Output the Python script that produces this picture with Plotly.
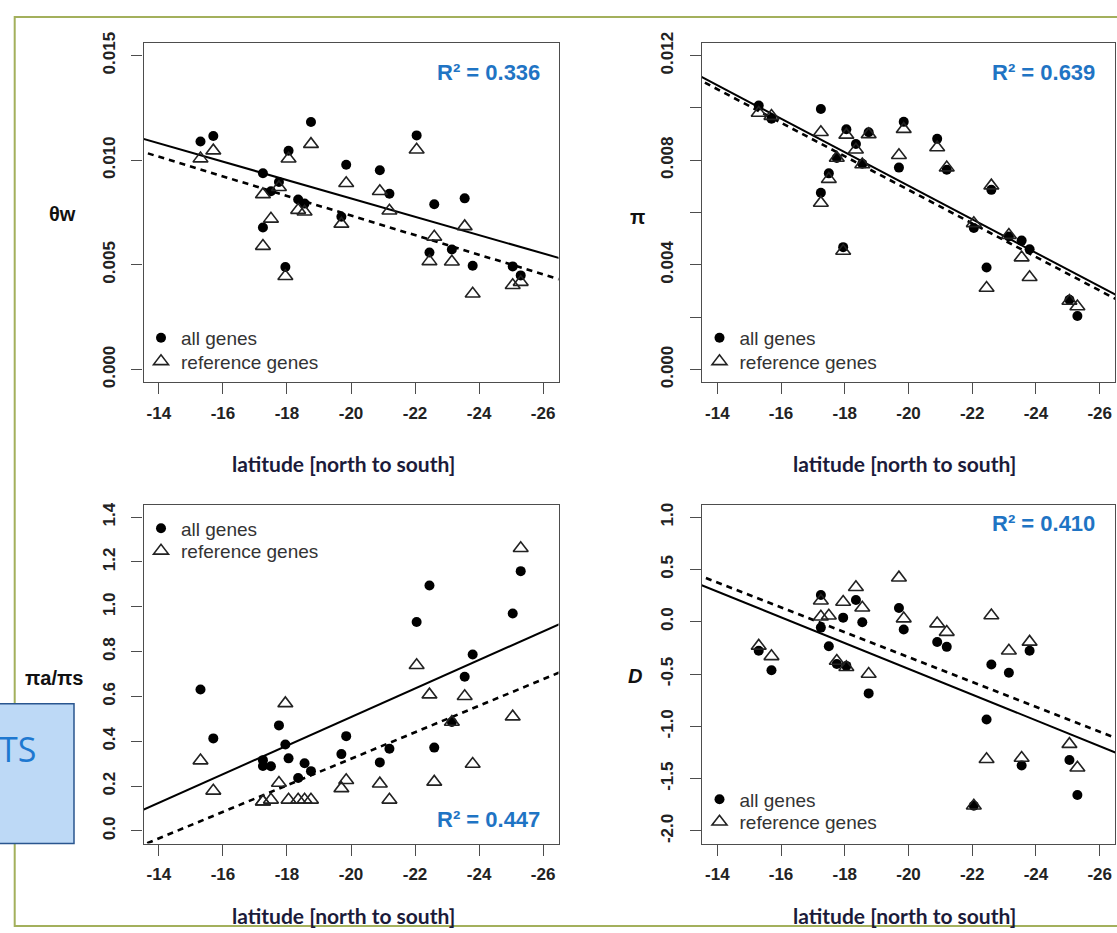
import plotly.graph_objects as go

# ---------------- data ----------------
lat = [-15.3, -15.7, -17.25, -17.25, -17.5, -17.75, -17.95, -18.05, -18.35, -18.55,
       -18.75, -19.7, -19.85, -20.9, -21.2, -22.05, -22.45, -22.6, -23.15, -23.55,
       -23.8, -25.05, -25.3]

theta_all = [0.01090, 0.01116, 0.00938, 0.00679, 0.00852, 0.00896, 0.00490, 0.01046,
             0.00813, 0.00793, 0.01183, 0.00730, 0.00979, 0.00952, 0.00840, 0.01119,
             0.00559, 0.00790, 0.00574, 0.00818, 0.00496, 0.00493, 0.00450]
theta_ref = [0.01008, 0.01046, 0.00837, 0.00590, 0.00720, 0.00871, 0.00446, 0.01007,
             0.00762, 0.00754, 0.01077, 0.00696, 0.00890, 0.00852, 0.00759, 0.01050,
             0.00517, 0.00634, 0.00515, 0.00684, 0.00362, 0.00403, 0.00418]

pi_all = [0.01009, 0.00959, 0.00996, 0.00676, 0.00750, 0.00809, 0.00468, 0.00919,
          0.00862, 0.00787, 0.00907, 0.00772, 0.00947, 0.00882, 0.00764, 0.00541,
          0.00390, 0.00687, 0.00509, 0.00493, 0.00460, 0.00267, 0.00205]
pi_ref = [0.00981, 0.00969, 0.00907, 0.00637, 0.00728, 0.00809, 0.00453, 0.00897,
          0.00840, 0.00784, 0.00899, 0.00819, 0.00919, 0.00849, 0.00772, 0.00559,
          0.00312, 0.00703, 0.00514, 0.00428, 0.00353, 0.00262, 0.00241]

ratio_all = [0.631, 0.413, 0.316, 0.290, 0.289, 0.471, 0.386, 0.324, 0.236, 0.302,
             0.267, 0.343, 0.423, 0.306, 0.367, 0.932, 1.095, 0.372, 0.486, 0.688,
             0.787, 0.970, 1.159]
ratio_ref = [0.314, 0.179, 0.131, 0.131, 0.139, 0.214, 0.569, 0.139, 0.139, 0.139,
             0.139, 0.190, 0.226, 0.211, 0.139, 0.739, 0.608, 0.219, 0.486, 0.601,
             0.299, 0.510, 1.261]

d_all = [-0.278, -0.463, 0.255, -0.056, -0.235, -0.404, 0.039, -0.422, 0.208, -0.005,
         -0.685, 0.132, -0.074, -0.193, -0.240, -1.759, -0.935, -0.409, -0.488, -1.374,
         -0.278, -1.321, -1.656]
d_ref = [-0.231, -0.331, 0.201, 0.048, 0.057, -0.375, 0.189, -0.435, 0.330, 0.133,
         -0.500, 0.421, 0.030, -0.018, -0.099, -1.759, -1.314, 0.060, -0.278, -1.302,
         -0.193, -1.170, -1.396]

# regression lines: values read at latitude -14 and -26
fit_lat = [-14, -26]
theta_fit_all = [0.01081, 0.00555]
theta_fit_ref = [0.01017, 0.00455]
pi_fit_all = [0.01087, 0.00318]
pi_fit_ref = [0.01072, 0.00302]
ratio_fit_all = [0.126, 0.890]
ratio_fit_ref = [-0.033, 0.677]
d_fit_all = [0.289, -1.189]
d_fit_ref = [0.375, -1.051]

r2_labels = ["R² = 0.336", "R² = 0.639", "R² = 0.447", "R² = 0.410"]
series_names = ["all genes", "reference genes"]

x_ticks = [-14, -16, -18, -20, -22, -24, -26]
theta_ticks = [0.0, 0.005, 0.010, 0.015]
theta_ticktext = ["0.000", "0.005", "0.010", "0.015"]
pi_ticks = [0.0, 0.002, 0.004, 0.006, 0.008, 0.010, 0.012]
pi_ticktext = ["0.000", "", "0.004", "", "0.008", "", "0.012"]
ratio_ticks = [0.0, 0.2, 0.4, 0.6, 0.8, 1.0, 1.2, 1.4]
ratio_ticktext = ["0.0", "0.2", "0.4", "0.6", "0.8", "1.0", "1.2", "1.4"]
d_ticks = [-2.0, -1.5, -1.0, -0.5, 0.0, 0.5, 1.0]
d_ticktext = ["-2.0", "-1.5", "-1.0", "-0.5", "0.0", "0.5", "1.0"]

# ---------------- layout helpers ----------------
W, H = 1117, 933
def px(x):
    return x / W
def py(y):
    return 1 - y / H

line_x = [-13.0, -27.0]
def extend(vals):
    s = (vals[1] - vals[0]) / (fit_lat[1] - fit_lat[0])
    return [vals[0] + s * (x - fit_lat[0]) for x in line_x]

FONT = "Liberation Sans, Arial, sans-serif"
BOX = "#4d4d4d"

panels = [
    dict(xa="x", ya="y", all=theta_all, ref=theta_ref, fa=theta_fit_all, fr=theta_fit_ref,
         yr=[-0.0006, 0.0156], tv=theta_ticks, tt=theta_ticktext,
         xd=[143.5, 558.5], yd=[32.7, 378], leg=(141, 333, 357)),
    dict(xa="x2", ya="y2", all=pi_all, ref=pi_ref, fa=pi_fit_all, fr=pi_fit_ref,
         yr=[-0.00048, 0.01248], tv=pi_ticks, tt=pi_ticktext,
         xd=[702, 1115], yd=[32.7, 378], leg=(699.5, 333, 357)),
    dict(xa="x3", ya="y3", all=ratio_all, ref=ratio_ref, fa=ratio_fit_all, fr=ratio_fit_ref,
         yr=[-0.056, 1.456], tv=ratio_ticks, tt=ratio_ticktext,
         xd=[143.5, 558.5], yd=[502.7, 848], leg=(141, 527, 550)),
    dict(xa="x4", ya="y4", all=d_all, ref=d_ref, fa=d_fit_all, fr=d_fit_ref,
         yr=[-2.12, 1.12], tv=d_ticks, tt=d_ticktext,
         xd=[702, 1115], yd=[502.7, 848], leg=(699.5, 803, 826)),
]

fig = go.Figure()
layout = {}
legend_style = dict(bgcolor="rgba(0,0,0,0)", borderwidth=0, xanchor="left", yanchor="middle",
                    font=dict(family=FONT, size=19, color="#333333"), itemwidth=30)
for i, p in enumerate(panels):
    leg_a = "legend" if i == 0 else "legend" + str(2 * i + 1)
    leg_b = "legend" + str(2 * i + 2)
    fig.add_trace(go.Scatter(x=line_x, y=extend(p["fa"]), xaxis=p["xa"], yaxis=p["ya"],
                             mode="lines", line=dict(color="black", width=2),
                             showlegend=False, hoverinfo="skip"))
    fig.add_trace(go.Scatter(x=line_x, y=extend(p["fr"]), xaxis=p["xa"], yaxis=p["ya"],
                             mode="lines", line=dict(color="black", width=2.6, dash="6px,5px"),
                             showlegend=False, hoverinfo="skip"))
    fig.add_trace(go.Scatter(x=lat, y=p["all"], xaxis=p["xa"], yaxis=p["ya"], mode="markers",
                             name=series_names[0], legend=leg_a,
                             marker=dict(symbol="circle", size=10, color="black",
                                         line=dict(width=0))))
    fig.add_trace(go.Scatter(x=lat, y=p["ref"], xaxis=p["xa"], yaxis=p["ya"], mode="markers",
                             name=series_names[1], legend=leg_b,
                             marker=dict(symbol="triangle-up-open", size=13, color="#222222",
                                         line=dict(width=1.6, color="#222222"))))
    lx, ly1, ly2 = p["leg"]
    layout[leg_a] = dict(legend_style, x=px(lx), y=py(ly1))
    layout[leg_b] = dict(legend_style, x=px(lx), y=py(ly2))
    sfx = "" if i == 0 else str(i + 1)
    layout["xaxis" + sfx] = dict(
        domain=[px(p["xd"][0]), px(p["xd"][1])], range=[-13.52, -26.48], anchor="y" + sfx,
        tickvals=x_ticks, ticktext=[str(v) for v in x_ticks], ticks="outside", ticklen=11,
        tickwidth=1.3, tickcolor=BOX, showline=True, mirror=True, linecolor=BOX, linewidth=1.4,
        showgrid=False, zeroline=False, ticklabelstandoff=4,
        tickfont=dict(family=FONT, size=17, color="#222222", weight="bold"))
    layout["yaxis" + sfx] = dict(
        domain=[py(p["yd"][1]), py(p["yd"][0])], range=p["yr"], anchor="x" + sfx,
        tickvals=p["tv"], ticktext=p["tt"], ticks="outside", ticklen=11, tickangle=-90,
        tickwidth=1.3, tickcolor=BOX, showline=True, mirror=True, linecolor=BOX, linewidth=1.4,
        showgrid=False, zeroline=False, ticklabelstandoff=10,
        tickfont=dict(family=FONT, size=17, color="#222222", weight="bold"))

annotations = []
r2_pos = [(542, 63), (1097, 63), (542, 824), (1097, 522)]
for t, (ax_, ay_) in zip(r2_labels, r2_pos):
    annotations.append(dict(text=t, x=px(ax_), y=py(ay_), xref="paper", yref="paper",
                            xanchor="right", yanchor="middle", showarrow=False,
                            font=dict(family=FONT, size=22, color="#1f74c4", weight="bold")))
for (tx, ty) in [(343, 461), (904, 461), (343, 921), (904, 921)]:
    annotations.append(dict(text="latitude [north to south]", x=px(tx), y=py(ty),
                            xref="paper", yref="paper", showarrow=False,
                            xanchor="center", yanchor="middle",
                            font=dict(family="Lato, sans-serif", size=21, color="#1b1b3a",
                                      weight="bold")))
ytitles = [("θw", 62, 207), ("π", 637, 210), ("πa/πs", 54, 679), ("<i>D</i>", 635, 677)]
for (t, tx, ty) in ytitles:
    annotations.append(dict(text=t, x=px(tx), y=py(ty), xref="paper", yref="paper",
                            showarrow=False, xanchor="center", yanchor="middle",
                            font=dict(family=FONT, size=20, color="#111111", weight="bold")))
annotations.append(dict(text="TS", x=px(38), y=py(752), xref="paper", yref="paper",
                        showarrow=False, xanchor="right", yanchor="middle",
                        font=dict(family="Open Sans, sans-serif", size=34, color="#1e78d0")))

shapes = [
    dict(type="rect", xref="paper", yref="paper", x0=px(14.7), x1=px(1130), y0=py(932),
         y1=py(6), line=dict(color="#a3b05c", width=2), fillcolor="rgba(0,0,0,0)",
         layer="below"),
    dict(type="rect", xref="paper", yref="paper", x0=px(-5), x1=px(74), y0=py(848),
         y1=py(705.7), line=dict(color="#2a568f", width=1.5), fillcolor="#bdd9f6",
         layer="above"),
]

fig.update_layout(width=W, height=H, margin=dict(l=0, r=0, t=0, b=0),
                  paper_bgcolor="white", plot_bgcolor="white",
                  annotations=annotations, shapes=shapes, **layout)

pin_js = ("document.body.style.margin='0px';document.body.style.overflow='hidden';"
          "var gd=document.getElementById('{plot_id}');"
          "gd.style.position='fixed';gd.style.left='0px';gd.style.top='0px';")
fig.write_html("out.html", config={"displayModeBar": False}, post_script=pin_js)
